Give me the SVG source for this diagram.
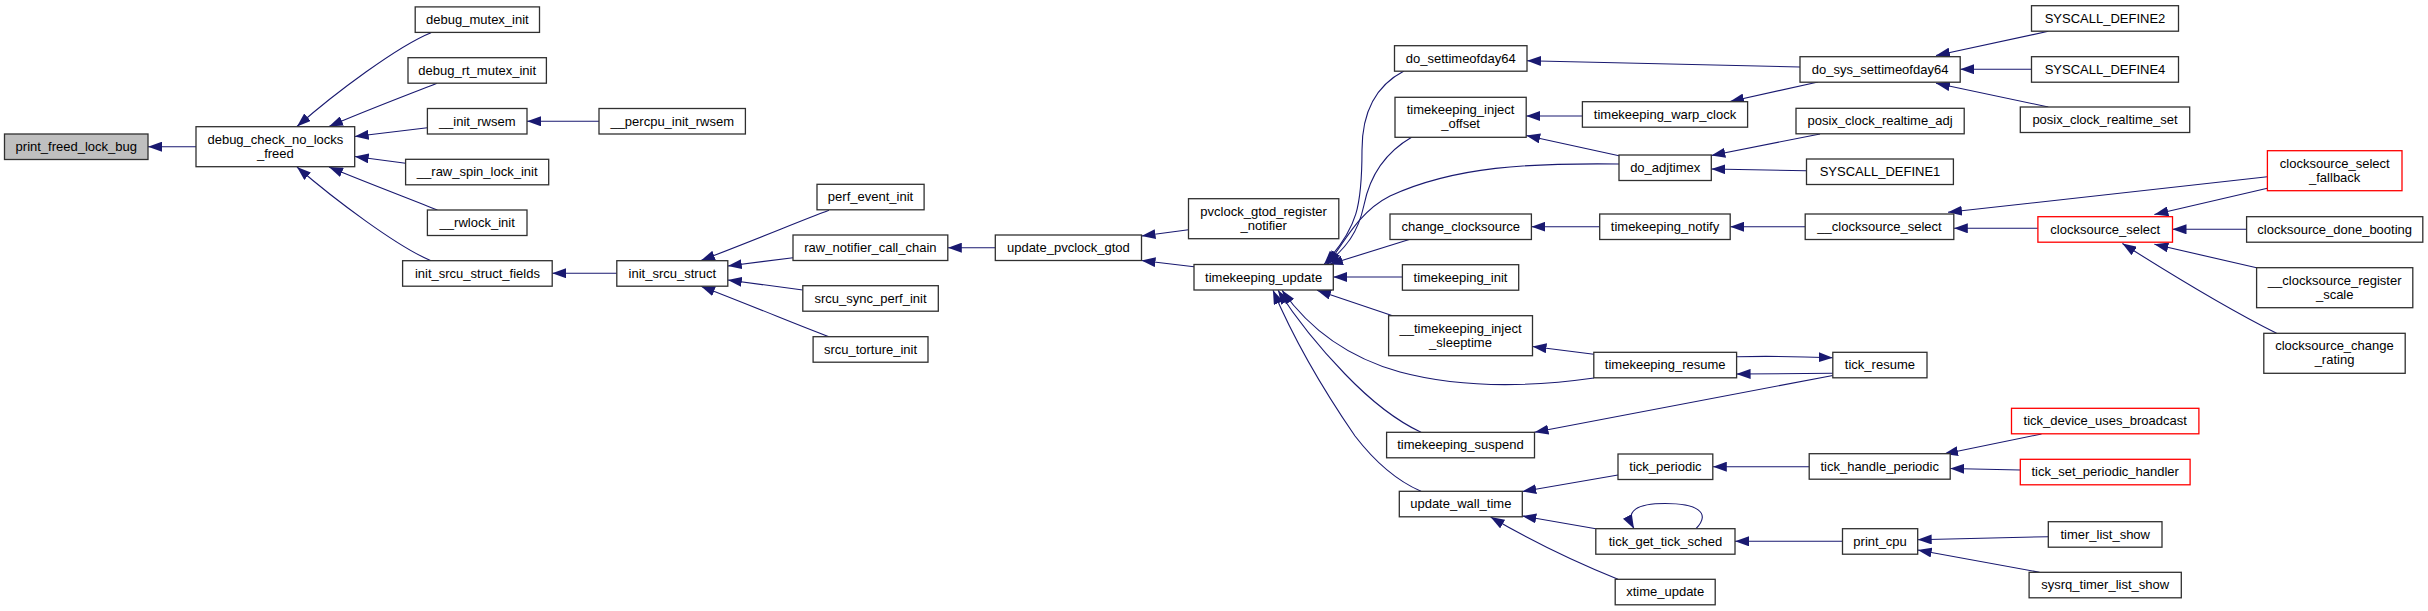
<svg xmlns="http://www.w3.org/2000/svg" width="2428" height="611" viewBox="0 0 2428 611">
<style>
.n rect{fill:#fff;stroke:#303030;stroke-width:1.3}
.n.r rect{stroke:#ff0000}
.n.g rect{fill:#bfbfbf}
.n text{font-family:"Liberation Sans",Arial,sans-serif;font-size:13px;fill:#000;text-anchor:middle}
.e path{fill:none;stroke:#191970;stroke-width:1.1}
</style>
<defs>
<marker id="a" markerUnits="userSpaceOnUse" markerWidth="14" markerHeight="10" refX="14" refY="5" orient="auto"><path d="M0,0 L14,5 L0,10 z" fill="#191970"/></marker>
</defs>
<rect width="2428" height="611" fill="#fff"/>
<g class="e">
<path d="M196,146.7 L148,146.7" marker-end="url(#a)"/>
<path d="M431,32.7 C398,46 335,93 297,126.5" marker-end="url(#a)"/>
<path d="M437,83.3 C410,94 365,111 329,126.5" marker-end="url(#a)"/>
<path d="M427.4,127.7 L354.7,136.5" marker-end="url(#a)"/>
<path d="M405.6,163.3 L354.7,156.5" marker-end="url(#a)"/>
<path d="M437.4,210 C410,199 365,182 329,167" marker-end="url(#a)"/>
<path d="M431,260.7 C398,247 335,200 297,167" marker-end="url(#a)"/>
<path d="M599,121.3 L527,121.3" marker-end="url(#a)"/>
<path d="M616.8,273.3 L552.2,273.3" marker-end="url(#a)"/>
<path d="M829,210.3 C800,221 765,236 701,260.5" marker-end="url(#a)"/>
<path d="M793,257.7 L727.8,266" marker-end="url(#a)"/>
<path d="M802.8,290 L727.8,280" marker-end="url(#a)"/>
<path d="M829,336.7 C800,326 765,311 701,286.2" marker-end="url(#a)"/>
<path d="M995.3,247.7 L947.8,247.7" marker-end="url(#a)"/>
<path d="M1188.5,229.7 L1141.5,236" marker-end="url(#a)"/>
<path d="M1194,266.7 L1141.5,260.5" marker-end="url(#a)"/>
<path d="M1404,71 C1375,86 1362,112 1362,150 C1362,205 1358,228 1324,264.5" marker-end="url(#a)"/>
<path d="M1412,137 C1386,152 1370,175 1364,205 C1358,233 1346,248 1326,264.5" marker-end="url(#a)"/>
<path d="M1619,164 C1530,163 1455,166 1390,196 C1362,210 1348,235 1328,264.5" marker-end="url(#a)"/>
<path d="M1410,239.3 L1329,264.5" marker-end="url(#a)"/>
<path d="M1402.4,277 L1333.2,277" marker-end="url(#a)"/>
<path d="M1392.6,315.7 L1317,290.2" marker-end="url(#a)"/>
<path d="M1594,378 C1530,387 1460,388 1400,372 C1350,358 1310,330 1282,290.2" marker-end="url(#a)"/>
<path d="M1421,432.3 C1395,420 1370,400 1345,374 C1318,346 1297,320 1278,290.2" marker-end="url(#a)"/>
<path d="M1421,491.3 C1395,480 1375,462 1355,436 C1320,385 1292,335 1273,290.2" marker-end="url(#a)"/>
<path d="M1800,67 L1527,60.7" marker-end="url(#a)"/>
<path d="M1582.4,116 L1526.2,116" marker-end="url(#a)"/>
<path d="M1619,155.7 L1526.2,135.5" marker-end="url(#a)"/>
<path d="M1599.7,226.7 L1531.4,226.7" marker-end="url(#a)"/>
<path d="M1593.8,354.3 L1532.5,346.5" marker-end="url(#a)"/>
<path d="M1818,82 L1730,101.5" marker-end="url(#a)"/>
<path d="M1820,134 L1711.3,155.5" marker-end="url(#a)"/>
<path d="M1806.5,170.7 L1711.3,169" marker-end="url(#a)"/>
<path d="M1805.2,226.7 L1730.2,226.7" marker-end="url(#a)"/>
<path d="M1736.6,356.7 C1770,356 1800,356.5 1832.8,357.7" marker-end="url(#a)"/>
<path d="M1832.8,373.3 L1736.6,374" marker-end="url(#a)"/>
<path d="M1832.8,375.5 L1534.5,432.3" marker-end="url(#a)"/>
<path d="M1809.2,466.7 L1712.8,466.7" marker-end="url(#a)"/>
<path d="M1618,475 L1522.3,491.5" marker-end="url(#a)"/>
<path d="M1595.8,528.7 L1522.3,516" marker-end="url(#a)"/>
<path d="M1618,579.3 C1590,568 1540,546 1490.6,517" marker-end="url(#a)"/>
<path d="M1696,528.7 C1712,512 1696,503.5 1665,503.5 C1638,503.5 1624,510 1634,528.7" marker-end="url(#a)"/>
<path d="M1842.5,541.3 L1735,541.3" marker-end="url(#a)"/>
<path d="M2041.5,434 L1944,454" marker-end="url(#a)"/>
<path d="M2020.3,470 L1950.2,468.5" marker-end="url(#a)"/>
<path d="M2048.3,536.7 L1917.7,539.7" marker-end="url(#a)"/>
<path d="M2039.5,572.3 L1917.7,550" marker-end="url(#a)"/>
<path d="M2048.3,31.3 L1936,55.5" marker-end="url(#a)"/>
<path d="M2031.5,69.3 L1960.2,69.3" marker-end="url(#a)"/>
<path d="M2048.3,107 L1936,83.3" marker-end="url(#a)"/>
<path d="M2267.4,176.7 L1948,212.3" marker-end="url(#a)"/>
<path d="M2267.4,188.3 L2154.4,214.5" marker-end="url(#a)"/>
<path d="M2037.9,228.3 L1953.8,228.3" marker-end="url(#a)"/>
<path d="M2246.6,229.3 L2172.5,229.3" marker-end="url(#a)"/>
<path d="M2256.6,267.7 L2154.4,244.3" marker-end="url(#a)"/>
<path d="M2276.6,333.3 C2240,315 2180,280 2122.4,243.5" marker-end="url(#a)"/>
</g>
<g id="print_freed_lock_bug" class="n g"><rect x="4.5" y="134" width="143.5" height="25.5"/><text x="76.3" y="151">print_freed_lock_bug</text></g>
<g id="debug_check_no_locks_freed" class="n"><rect x="196" y="126.7" width="158.7" height="40"/><text x="275.4" y="143.7">debug_check_no_locks</text><text x="275.4" y="157.7">_freed</text></g>
<g id="debug_mutex_init" class="n"><rect x="415.2" y="6.9" width="124.3" height="25.5"/><text x="477.4" y="23.9">debug_mutex_init</text></g>
<g id="debug_rt_mutex_init" class="n"><rect x="408" y="57.7" width="138.4" height="25.5"/><text x="477.2" y="74.7">debug_rt_mutex_init</text></g>
<g id="__init_rwsem" class="n"><rect x="427.4" y="108.5" width="99.6" height="25.5"/><text x="477.2" y="125.5">__init_rwsem</text></g>
<g id="__raw_spin_lock_init" class="n"><rect x="405.6" y="159.3" width="143.1" height="25.5"/><text x="477.2" y="176.3">__raw_spin_lock_init</text></g>
<g id="__rwlock_init" class="n"><rect x="427.4" y="210" width="99.6" height="25.5"/><text x="477.2" y="227">__rwlock_init</text></g>
<g id="init_srcu_struct_fields" class="n"><rect x="402.6" y="260.7" width="149.6" height="25.5"/><text x="477.4" y="277.7">init_srcu_struct_fields</text></g>
<g id="__percpu_init_rwsem" class="n"><rect x="599" y="108.5" width="146.4" height="25.5"/><text x="672.2" y="125.5">__percpu_init_rwsem</text></g>
<g id="init_srcu_struct" class="n"><rect x="616.8" y="260.7" width="111" height="25.5"/><text x="672.3" y="277.7">init_srcu_struct</text></g>
<g id="perf_event_init" class="n"><rect x="817" y="184.3" width="107.1" height="25.5"/><text x="870.5" y="201.3">perf_event_init</text></g>
<g id="raw_notifier_call_chain" class="n"><rect x="793" y="235" width="154.8" height="25.5"/><text x="870.4" y="252">raw_notifier_call_chain</text></g>
<g id="srcu_sync_perf_init" class="n"><rect x="802.8" y="285.7" width="135.5" height="25.5"/><text x="870.5" y="302.7">srcu_sync_perf_init</text></g>
<g id="srcu_torture_init" class="n"><rect x="813.1" y="336.7" width="114.9" height="25.5"/><text x="870.5" y="353.7">srcu_torture_init</text></g>
<g id="update_pvclock_gtod" class="n"><rect x="995.3" y="235" width="146.2" height="25.5"/><text x="1068.4" y="252">update_pvclock_gtod</text></g>
<g id="pvclock_gtod_register_notifier" class="n"><rect x="1188.5" y="198.7" width="150.3" height="40"/><text x="1263.6" y="215.7">pvclock_gtod_register</text><text x="1263.6" y="229.7">_notifier</text></g>
<g id="timekeeping_update" class="n"><rect x="1194" y="264.5" width="139.3" height="25.5"/><text x="1263.6" y="281.5">timekeeping_update</text></g>
<g id="do_settimeofday64" class="n"><rect x="1394.5" y="45.7" width="132.5" height="25.5"/><text x="1460.7" y="62.7">do_settimeofday64</text></g>
<g id="timekeeping_inject_offset" class="n"><rect x="1395" y="97.3" width="131.2" height="40"/><text x="1460.6" y="114.3">timekeeping_inject</text><text x="1460.6" y="128.3">_offset</text></g>
<g id="change_clocksource" class="n"><rect x="1390" y="214" width="141.4" height="25.5"/><text x="1460.7" y="231">change_clocksource</text></g>
<g id="timekeeping_init" class="n"><rect x="1402.4" y="264.7" width="116.3" height="25.5"/><text x="1460.5" y="281.7">timekeeping_init</text></g>
<g id="__timekeeping_inject_sleeptime" class="n"><rect x="1388.6" y="315.7" width="143.9" height="40"/><text x="1460.5" y="332.7">__timekeeping_inject</text><text x="1460.5" y="346.7">_sleeptime</text></g>
<g id="timekeeping_suspend" class="n"><rect x="1386.6" y="432.3" width="147.9" height="25.5"/><text x="1460.5" y="449.3">timekeeping_suspend</text></g>
<g id="update_wall_time" class="n"><rect x="1399.3" y="491.3" width="123" height="25.5"/><text x="1460.8" y="508.3">update_wall_time</text></g>
<g id="timekeeping_warp_clock" class="n"><rect x="1582.4" y="101.7" width="165.2" height="25.5"/><text x="1665" y="118.7">timekeeping_warp_clock</text></g>
<g id="do_adjtimex" class="n"><rect x="1619" y="155" width="92.3" height="25.5"/><text x="1665.2" y="172">do_adjtimex</text></g>
<g id="timekeeping_notify" class="n"><rect x="1599.7" y="214" width="130.5" height="25.5"/><text x="1665" y="231">timekeeping_notify</text></g>
<g id="timekeeping_resume" class="n"><rect x="1593.8" y="352.3" width="142.8" height="25.5"/><text x="1665.2" y="369.3">timekeeping_resume</text></g>
<g id="tick_periodic" class="n"><rect x="1618" y="454" width="94.8" height="25.5"/><text x="1665.4" y="471">tick_periodic</text></g>
<g id="tick_get_tick_sched" class="n"><rect x="1595.8" y="528.7" width="139.2" height="25.5"/><text x="1665.4" y="545.7">tick_get_tick_sched</text></g>
<g id="xtime_update" class="n"><rect x="1615.2" y="579.3" width="100" height="25.5"/><text x="1665.2" y="596.3">xtime_update</text></g>
<g id="do_sys_settimeofday64" class="n"><rect x="1800" y="56.7" width="160.2" height="25.5"/><text x="1880.1" y="73.7">do_sys_settimeofday64</text></g>
<g id="posix_clock_realtime_adj" class="n"><rect x="1796" y="108.3" width="168.2" height="25.5"/><text x="1880.1" y="125.3">posix_clock_realtime_adj</text></g>
<g id="SYSCALL_DEFINE1" class="n"><rect x="1806.5" y="159" width="146.9" height="25.5"/><text x="1880" y="176">SYSCALL_DEFINE1</text></g>
<g id="__clocksource_select" class="n"><rect x="1805.2" y="214" width="148.6" height="25.5"/><text x="1879.5" y="231">__clocksource_select</text></g>
<g id="tick_resume" class="n"><rect x="1832.8" y="352.3" width="94.2" height="25.5"/><text x="1879.9" y="369.3">tick_resume</text></g>
<g id="tick_handle_periodic" class="n"><rect x="1809.2" y="453.7" width="141" height="25.5"/><text x="1879.7" y="470.7">tick_handle_periodic</text></g>
<g id="print_cpu" class="n"><rect x="1842.5" y="528.7" width="75.2" height="25.5"/><text x="1880.1" y="545.7">print_cpu</text></g>
<g id="SYSCALL_DEFINE2" class="n"><rect x="2031.5" y="5.7" width="147" height="25.5"/><text x="2105" y="22.7">SYSCALL_DEFINE2</text></g>
<g id="SYSCALL_DEFINE4" class="n"><rect x="2031.5" y="56.7" width="147" height="25.5"/><text x="2105" y="73.7">SYSCALL_DEFINE4</text></g>
<g id="posix_clock_realtime_set" class="n"><rect x="2020.3" y="107" width="169.4" height="25.5"/><text x="2105" y="124">posix_clock_realtime_set</text></g>
<g id="clocksource_select_fallback" class="n r"><rect x="2267.4" y="150.7" width="134.6" height="40"/><text x="2334.7" y="167.7">clocksource_select</text><text x="2334.7" y="181.7">_fallback</text></g>
<g id="clocksource_select" class="n r"><rect x="2037.9" y="216.7" width="134.6" height="25.5"/><text x="2105.2" y="233.7">clocksource_select</text></g>
<g id="clocksource_done_booting" class="n"><rect x="2246.6" y="216.7" width="176.2" height="25.5"/><text x="2334.7" y="233.7">clocksource_done_booting</text></g>
<g id="__clocksource_register_scale" class="n"><rect x="2256.6" y="267.7" width="156.2" height="40"/><text x="2334.7" y="284.7">__clocksource_register</text><text x="2334.7" y="298.7">_scale</text></g>
<g id="clocksource_change_rating" class="n"><rect x="2263.8" y="333.3" width="141.4" height="40"/><text x="2334.5" y="350.3">clocksource_change</text><text x="2334.5" y="364.3">_rating</text></g>
<g id="tick_device_uses_broadcast" class="n r"><rect x="2011.5" y="408.3" width="187.4" height="25.5"/><text x="2105.2" y="425.3">tick_device_uses_broadcast</text></g>
<g id="tick_set_periodic_handler" class="n r"><rect x="2020.3" y="459.3" width="169.8" height="25.5"/><text x="2105.2" y="476.3">tick_set_periodic_handler</text></g>
<g id="timer_list_show" class="n"><rect x="2048.3" y="521.7" width="113.7" height="25.5"/><text x="2105.2" y="538.7">timer_list_show</text></g>
<g id="sysrq_timer_list_show" class="n"><rect x="2029.1" y="572.3" width="152.2" height="25.5"/><text x="2105.2" y="589.3">sysrq_timer_list_show</text></g>
</svg>
